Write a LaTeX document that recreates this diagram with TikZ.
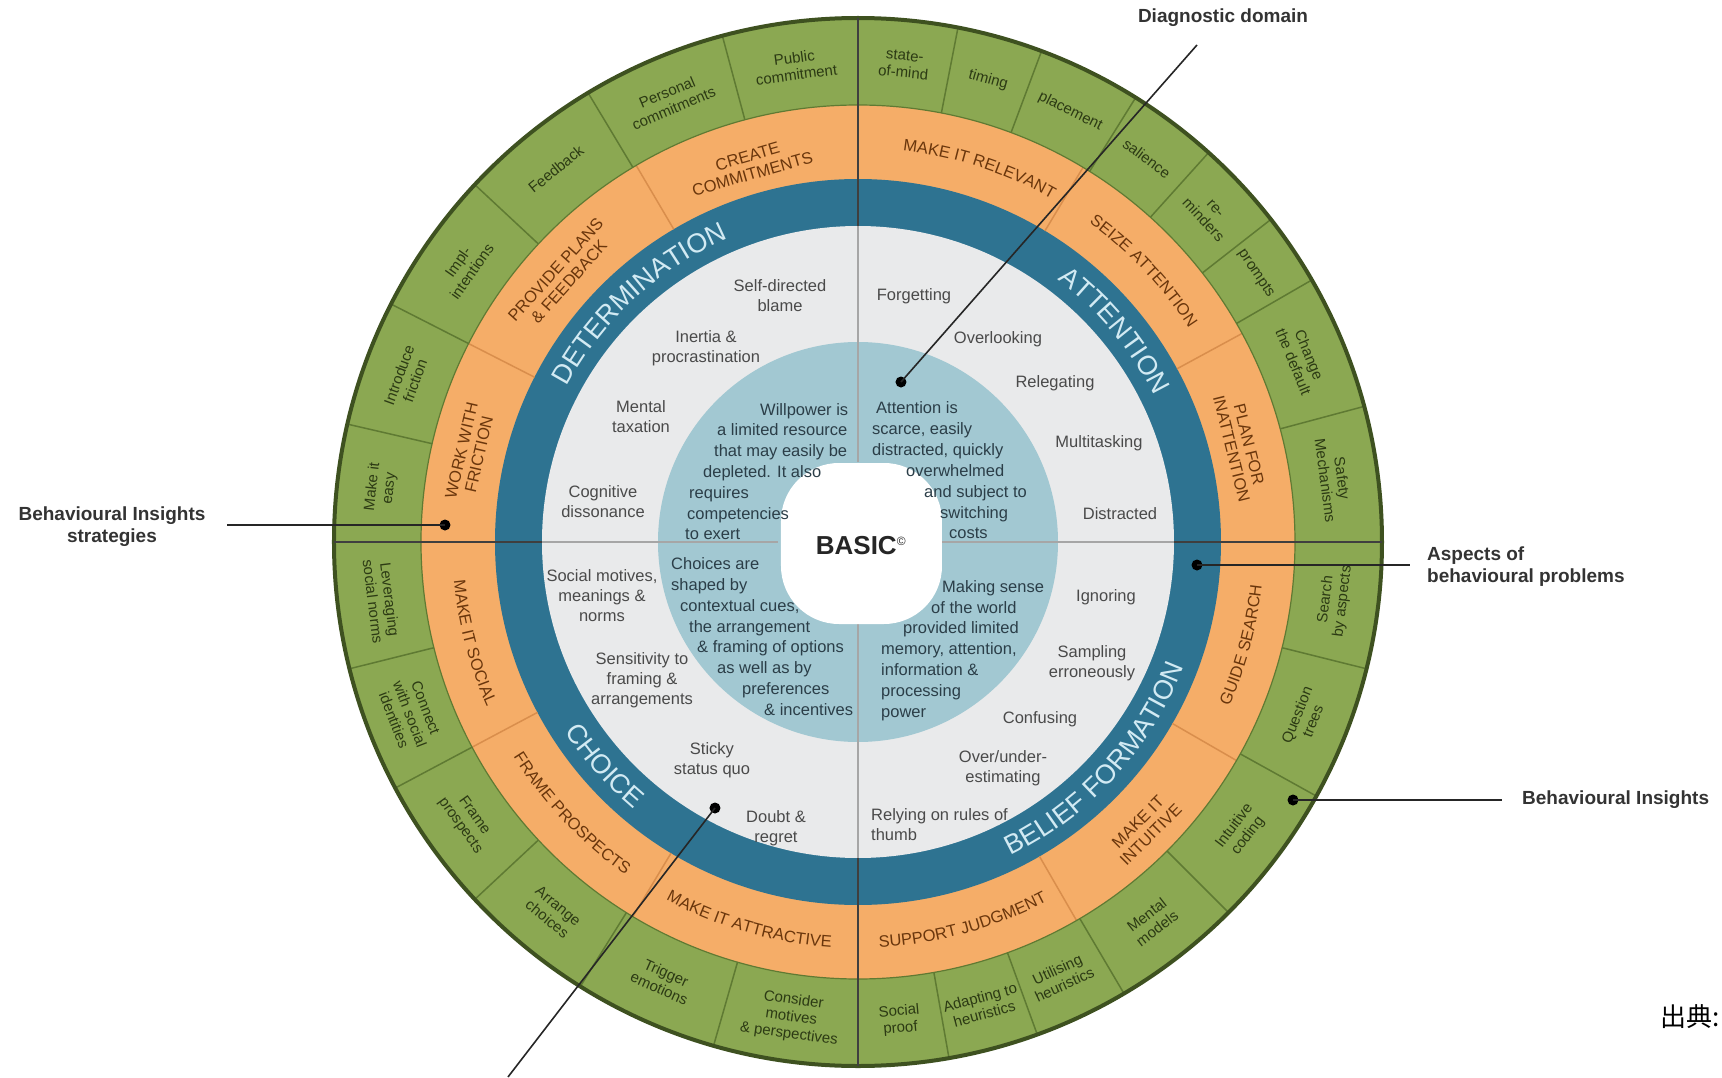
\documentclass[tikz,border=0pt]{standalone}
\usepackage{fontspec}
\setmainfont{Liberation Sans}
\newfontfamily\cjkfont{Noto Sans CJK JP}
\usetikzlibrary{decorations.text}
\definecolor{ringgreen}{HTML}{8BA852}
\definecolor{greenline}{HTML}{5F7A33}
\definecolor{greenedge}{HTML}{3E5120}
\definecolor{greentext}{HTML}{2C3A14}
\definecolor{ringorange}{HTML}{F5AD68}
\definecolor{orangeline}{HTML}{D98E4C}
\definecolor{orangetext}{HTML}{6A360C}
\definecolor{ringteal}{HTML}{2E7391}
\definecolor{tealtext}{HTML}{D2EAF3}
\definecolor{innergrey}{HTML}{E9EAEB}
\definecolor{innerblue}{HTML}{A2C8D2}
\definecolor{greytext}{HTML}{4A4A4A}
\definecolor{bluetext}{HTML}{2B3E48}
\definecolor{labeltext}{HTML}{333333}
\definecolor{divider}{HTML}{3F3F3F}
\newcommand\orfont{\fontsize{16.5}{18}\selectfont}
\newcommand\tealfont{\fontsize{27}{30}\selectfont}
\begin{document}
\begin{tikzpicture}[x=1pt,y=1pt,
  greenlbl/.style={font=\fontsize{15}{17}\selectfont, text=greentext, align=center, inner sep=0},
  orangelbl/.style={font=\orfont, text=orangetext, align=center, inner sep=0},
  greylbl/.style={font=\fontsize{16.5}{20}\selectfont, text=greytext, align=center, inner sep=0},
  bluelbl/.style={font=\fontsize{16.5}{20.8}\selectfont, text=bluetext, align=left, inner sep=0, anchor=west},
  outlbl/.style={font=\bfseries\fontsize{19}{22}\selectfont, text=labeltext, inner sep=0},
  dotmark/.style={circle, fill=black, inner sep=0, minimum size=11},
  pointer/.style={draw=black!85, line width=1.6},
  orcurve/.style={decorate, decoration={text along path, text align=center, text color=orangetext, text={|\orfont|#1}}},
  tealcurve/.style={decorate, decoration={text along path, text align=center, text color=tealtext, text={|\tealfont|#1}}},
]
\useasboundingbox (-858,-535) rectangle (864,542);
\def\Rout{524}
\def\Rg{437}
\def\Ro{363}
\def\Rt{316}
\def\Rb{200}
% rings
\fill[ringgreen] (0,0) circle (\Rout);
\fill[ringorange] (0,0) circle (\Rg);
\fill[ringteal] (0,0) circle (\Ro);
\fill[innergrey] (0,0) circle (\Rt);
\fill[innerblue] (0,0) circle (\Rb);
% cell boundaries
\foreach \a in {15,30,38,48,58,69.5,79,105,121,137,153,167,194,208,223,238,254,280,290,300.5,315,331,346}
  \draw[greenline, line width=1.5] (\a:\Rg) -- (\a:\Rout);
\foreach \a in {28.5,59,120.5,153,208,239,300,330}
  \draw[orangeline, line width=1.5] (\a:\Ro) -- (\a:\Rg);
\draw[greenline, line width=1.2] (0,0) circle (\Rg);
\draw[greenedge, line width=4] (0,0) circle (\Rout);
% dividers
\foreach \a in {0,90,180,270} {
  \draw[gray!70, line width=1.2] (\a:80) -- (\a:\Rt);
  \draw[divider, line width=2.2] (\a:\Rt) -- (\a:\Rout);
}
% centre
\fill[white, rounded corners=58] (-77,-82) rectangle (84,79);
\node[font=\bfseries\fontsize{26}{30}\selectfont, text=black!85] (basic) at (3,-4)
  {BASIC\textsuperscript{\normalfont\fontsize{12}{12}\selectfont ©}};
% green ring labels
\foreach \a/\t [count=\i] in {
 84.5/{state-\\of-mind}, 74.25/timing, 63.75/placement, 53/salience, 43/{re-\\minders}, 34/prompts,
 22.5/{Change\\the default}, 7.5/{Safety\\Mechanisms},
 97.5/{Public\\commitment}, 113/{Personal\\commitments}, 129/Feedback, 145/{Impl-\\intentions},
 160/{Introduce\\friction}, 173.5/{Make it\\easy},
 187/{Leveraging\\social norms}, 201/{Connect\\with social\\identities}, 215.5/{Frame\\prospects},
 230.5/{Arrange\\choices}, 246/{Trigger\\emotions}, 262/{Consider\\motives\\\& perspectives},
 275/{Social\\proof}, 285/{Adapting to\\heuristics}, 295/{Utilising\\heuristics}, 307.75/{Mental\\models},
 323/{Intuitive\\coding}, 338.5/{Question\\trees}, 353/{Search\\by aspects}}
{
  \pgfmathsetmacro\rot{\a<180 ? \a-90 : \a+90}
  \node[greenlbl, rotate=\rot] (g\i) at (\a:480) {\t};
}
% orange ring labels
\node[orangelbl, rotate=16] (o1) at (106:392) {CREATE\\COMMITMENTS};
\node[orangelbl, rotate=48] (o2) at (138:398) {PROVIDE PLANS\\\& FEEDBACK};
\node[orangelbl, rotate=77] (o3) at (167:398) {WORK WITH\\FRICTION};
\node[orangelbl, rotate=-76] (o4) at (14:394) {PLAN FOR\\INATTENTION};
\node[orangelbl, rotate=45] (o5) at (315:405) {MAKE IT\\INTUITIVE};
\path[orcurve={MAKE IT RELEVANT}] (90:394) arc[start angle=90, end angle=54, radius=394];
\path[orcurve={SEIZE ATTENTION}] (60:394) arc[start angle=60, end angle=27, radius=394];
\path[orcurve={MAKE IT SOCIAL}] (178:406) arc[start angle=178, end angle=211.4, radius=406];
\path[orcurve={FRAME PROSPECTS}] (207:406) arc[start angle=207, end angle=240, radius=406];
\path[orcurve={MAKE IT ATTRACTIVE}] (238:406) arc[start angle=238, end angle=270, radius=406];
\path[orcurve={SUPPORT JUDGMENT}] (268:406) arc[start angle=268, end angle=302.8, radius=406];
\path[orcurve={GUIDE SEARCH}] (330:406) arc[start angle=330, end angle=360, radius=406];
% teal ring labels
\path[tealcurve={DETERMINATION}] (160:330) arc[start angle=160, end angle=105, radius=330];
\path[tealcurve={ATTENTION}] (70:330) arc[start angle=70, end angle=9, radius=330];
\path[tealcurve={CHOICE}] (200:349) arc[start angle=200, end angle=242.8, radius=349];
\path[tealcurve={BELIEF FORMATION}] (285:349) arc[start angle=285, end angle=350, radius=349];
% grey region labels
\node[greylbl] (s1) at (-78,246) {Self-directed\\blame};
\node[greylbl] (s2) at (-152,194) {Inertia \&\\procrastination};
\node[greylbl] (s3) at (-217,125) {Mental\\taxation};
\node[greylbl] (s4) at (-255,40) {Cognitive\\dissonance};
\node[greylbl] (s5) at (56,246) {Forgetting};
\node[greylbl] (s6) at (140,203) {Overlooking};
\node[greylbl] (s7) at (197,159) {Relegating};
\node[greylbl] (s8) at (241,99) {Multitasking};
\node[greylbl] (s9) at (262,28) {Distracted};
\node[greylbl] (s10) at (-256,-54) {Social motives,\\meanings \&\\norms};
\node[greylbl] (s11) at (-216,-138) {Sensitivity to\\framing \&\\arrangements};
\node[greylbl] (s12) at (-146,-218) {Sticky\\status quo};
\node[greylbl] (s13) at (-82,-286) {Doubt \&\\regret};
\node[greylbl] (s14) at (248,-55) {Ignoring};
\node[greylbl] (s15) at (234,-121) {Sampling\\erroneously};
\node[greylbl] (s16) at (182,-177) {Confusing};
\node[greylbl] (s17) at (145,-226) {Over/under-\\estimating};
\node[greylbl, align=left, anchor=west] (s18) at (13,-283) {Relying on rules of\\thumb};
% blue region paragraphs
\node[bluelbl] (p1) at (-173,70.5) {\hspace*{75pt}Willpower is\\\hspace*{32pt}a limited resource\\\hspace*{29pt}that may easily be\\\hspace*{18pt}depleted. It also\\\hspace*{4pt}requires\\\hspace*{2pt}competencies\\to exert};
\node[bluelbl] (p2) at (14,71.5) {\hspace*{4pt}Attention is\\scarce, easily\\distracted, quickly\\\hspace*{34pt}overwhelmed\\\hspace*{52pt}and subject to\\\hspace*{68pt}switching\\\hspace*{77pt}costs};
\node[bluelbl] (p3) at (-187,-94.5) {Choices are\\shaped by\\\hspace*{9pt}contextual cues,\\\hspace*{18pt}the arrangement\\\hspace*{26pt}\& framing of options\\\hspace*{46pt}as well as by\\\hspace*{71pt}preferences\\\hspace*{93pt}\& incentives};
\node[bluelbl] (p4) at (23,-108.5) {\hspace*{61pt}Making sense\\\hspace*{50pt}of the world\\\hspace*{22pt}provided limited\\memory, attention,\\information \&\\processing\\power};
% outer labels and pointers
\node[outlbl, align=center] (lbl1) at (-746,15) {Behavioural Insights\\strategies};
\node[dotmark] (dot1) at (-413,17) {};
\coordinate (end1) at (-631,17);
\draw[pointer] (dot1.center) -- (end1);
\node[outlbl, align=left, anchor=west] (lbl2) at (569,-24.5) {Aspects of\\behavioural problems};
\node[dotmark] (dot2) at (339,-23) {};
\coordinate (end2) at (552,-23);
\draw[pointer] (dot2.center) -- (end2);
\node[outlbl, anchor=west] (lbl3) at (664,-258) {Behavioural Insights};
\node[dotmark] (dot3) at (435,-258) {};
\coordinate (end3) at (644,-258);
\draw[pointer] (dot3.center) -- (end3);
\node[outlbl] (lbl4) at (365,524) {Diagnostic domain};
\node[dotmark] (dot4) at (43,160) {};
\coordinate (end4) at (339,497);
\draw[pointer] (dot4.center) -- (end4);
\node[dotmark] (dot5) at (-143,-266) {};
\coordinate (end5) at (-350,-535);
\draw[pointer] (dot5.center) -- (end5);
\node[font=\cjkfont\fontsize{26}{30}\selectfont, anchor=east, inner sep=0] (src) at (862,-475) {出典:};
\end{tikzpicture}
\end{document}
